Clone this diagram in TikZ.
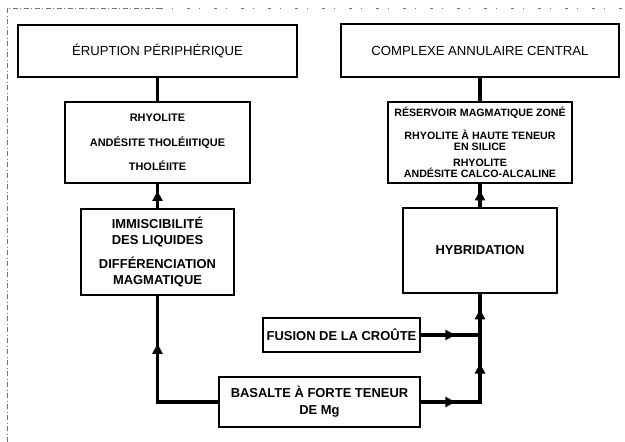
\documentclass[tikz,border=0pt]{standalone}
\usepackage{fontspec}
\setmainfont{Liberation Sans}
\usetikzlibrary{arrows.meta,decorations.markings,calc}
\begin{document}
\begin{tikzpicture}[x=1bp,y=-1bp,
  box/.style={draw, line width=1.2bp, rectangle, inner sep=0pt, align=center},
  bigtxt/.style={font=\fontsize{13.2}{15}\selectfont},
  smalltxt/.style={font=\bfseries\fontsize{10.7}{11}\selectfont},
  boldtxt/.style={font=\bfseries\fontsize{13}{16}\selectfont},
  conn/.style={line width=3.5bp},
  midarrow/.style={postaction={decorate}, decoration={markings,
      mark=at position 0.5 with {\arrow[xshift=5bp]{Triangle[length=10bp,width=10bp]}}}},
  border/.style={draw=black!55, line width=0.6bp, dash pattern=on 5bp off 2bp on 1bp off 3bp}
]
\useasboundingbox (0,0) rectangle (625,442);
% scanned frame
\draw[border] (7,442) -- (7,8) -- (160,8);
\draw[border, dash pattern=on 3bp off 9bp on 1bp off 14bp] (160,8) -- (625,8);

% boxes
\node[box, bigtxt, minimum width=279bp, minimum height=52bp] (A) at (157.5,51) {ÉRUPTION PÉRIPHÉRIQUE};
\node[box, bigtxt, minimum width=278bp, minimum height=53bp] (B) at (480,50.5) {COMPLEXE ANNULAIRE CENTRAL};
\node[box, font=\bfseries\fontsize{11}{24.5}\selectfont, minimum width=185bp, minimum height=81bp] (C) at (157.5,142.5)
  {RHYOLITE\\ANDÉSITE THOLÉIITIQUE\\THOLÉIITE};
\node[box, smalltxt, minimum width=184bp, minimum height=81bp] (D) at (480,142.5)
  {RÉSERVOIR MAGMATIQUE ZONÉ\\[10bp]RHYOLITE À HAUTE TENEUR\\EN SILICE\\[5bp]RHYOLITE\\ANDÉSITE CALCO-ALCALINE};
\node[box, boldtxt, minimum width=153bp, minimum height=86bp] (E) at (157.5,252)
  {IMMISCIBILITÉ\\DES LIQUIDES\\[8bp]DIFFÉRENCIATION\\MAGMATIQUE};
\node[box, boldtxt, minimum width=154bp, minimum height=85bp] (F) at (480,250.5) {HYBRIDATION};
\node[box, boldtxt, minimum width=157bp, minimum height=34bp] (G) at (341.5,335) {FUSION DE LA CROÛTE};
\node[box, font=\bfseries\fontsize{13}{17}\selectfont, minimum width=201bp, minimum height=50bp] (H) at (319.5,402)
  {BASALTE À FORTE TENEUR\\DE Mg};

% junctions
\coordinate (jG) at (F.south |- G.east);
\coordinate (jH) at (F.south |- H.east);
\coordinate (cL) at (E.south |- H.west);

% connectors
\draw[conn] (A.south) -- (C.north);
\draw[conn] (B.south) -- (D.north);
\draw[conn, midarrow] (E.north) -- (C.south);
\draw[conn, midarrow] (F.north) -- (D.south);
\draw[conn, line cap=rect] (H.west) -- (cL);
\draw[conn, midarrow] (cL) -- (E.south);
\draw[conn, midarrow] (G.east) -- (jG);
\draw[conn, midarrow] (H.east) -- (jH);
\draw[conn, midarrow, line cap=rect] (jH) -- (jG);
\draw[conn, midarrow] (jG) -- (F.south);
\end{tikzpicture}
\end{document}
